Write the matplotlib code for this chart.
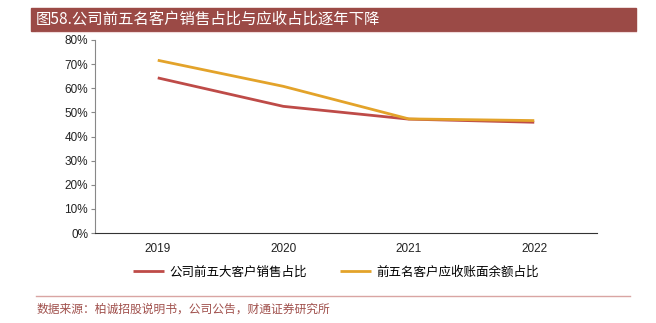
import matplotlib
matplotlib.use('Agg')
import matplotlib.pyplot as plt
from matplotlib.patches import Rectangle
from matplotlib.lines import Line2D

plt.rcParams['font.family'] = ['Liberation Sans', 'Noto Sans CJK SC', 'DejaVu Sans']

years = ['2019', '2020', '2021', '2022']
salesShare = [64.3, 52.5, 47.2, 45.9]        # 公司前五大客户销售占比 (%)
receivableShare = [71.6, 60.8, 47.3, 46.6]   # 前五名客户应收账面余额占比 (%)
yTicks = [0, 10, 20, 30, 40, 50, 60, 70, 80]

titleText = '图58.公司前五名客户销售占比与应收占比逐年下降'
sourceText = '数据来源：柏诚招股说明书，公司公告，财通证券研究所'
seriesNames = ['公司前五大客户销售占比', '前五名客户应收账面余额占比']

red = '#BE4B48'
orange = '#E3A32A'
barColor = '#9B4A46'
cjk = ['Noto Sans CJK SC', 'DejaVu Sans']

fig = plt.figure(figsize=(6.56, 3.23), dpi=100)
W, H = 656.0, 323.0

# title bar
fig.patches.append(Rectangle((31 / W, 1 - 31 / H), 605 / W, 23 / H,
                             transform=fig.transFigure, color=barColor, zorder=0))
fig.text(36 / W, 1 - 19.5 / H, titleText, color='white', fontsize=11.1,
         va='center', ha='left', family=cjk)

# thin pink line under the title
fig.lines.append(Line2D([36 / W, 636 / W], [1 - 31.5 / H, 1 - 31.5 / H],
                        transform=fig.transFigure, color='#F0DADA', lw=0.8))

ax = fig.add_axes([95 / W, 1 - 233 / H, 502 / W, 193 / H])
x = list(range(len(years)))
ax.plot(x, salesShare, color=red, lw=2, label=seriesNames[0], solid_capstyle='butt')
ax.plot(x, receivableShare, color=orange, lw=2, label=seriesNames[1], solid_capstyle='butt')

ax.set_xlim(-0.5, len(years) - 0.5)
ax.set_ylim(0, 80)
ax.set_yticks(yTicks)
ax.set_yticklabels([f'{v}%' for v in yTicks], fontsize=8.5, color='#222222')
ax.set_xticks(x)
ax.set_xticklabels(years, fontsize=8.5, color='#222222')
ax.tick_params(axis='x', length=0, pad=7)
ax.tick_params(axis='y', length=3, width=0.8, color='#888888', pad=2)
for side in ['top', 'right']:
    ax.spines[side].set_visible(False)
ax.spines['left'].set_color('#888888')
ax.spines['bottom'].set_color('#333333')

leg = fig.legend(loc='center', bbox_to_anchor=(336 / W, 1 - 272 / H), ncol=2,
                 frameon=False, prop={'family': cjk, 'size': 9},
                 handlelength=2.5, columnspacing=2.6, handletextpad=0.45)

# source line
fig.lines.append(Line2D([36 / W, 630 / W], [1 - 296 / H, 1 - 296 / H],
                        transform=fig.transFigure, color='#D9A5A3', lw=1))
fig.text(37 / W, 1 - 309 / H, sourceText, color='#A0504C', fontsize=8.5,
         va='center', ha='left', family=cjk)

fig.savefig('out.png', dpi=100)
